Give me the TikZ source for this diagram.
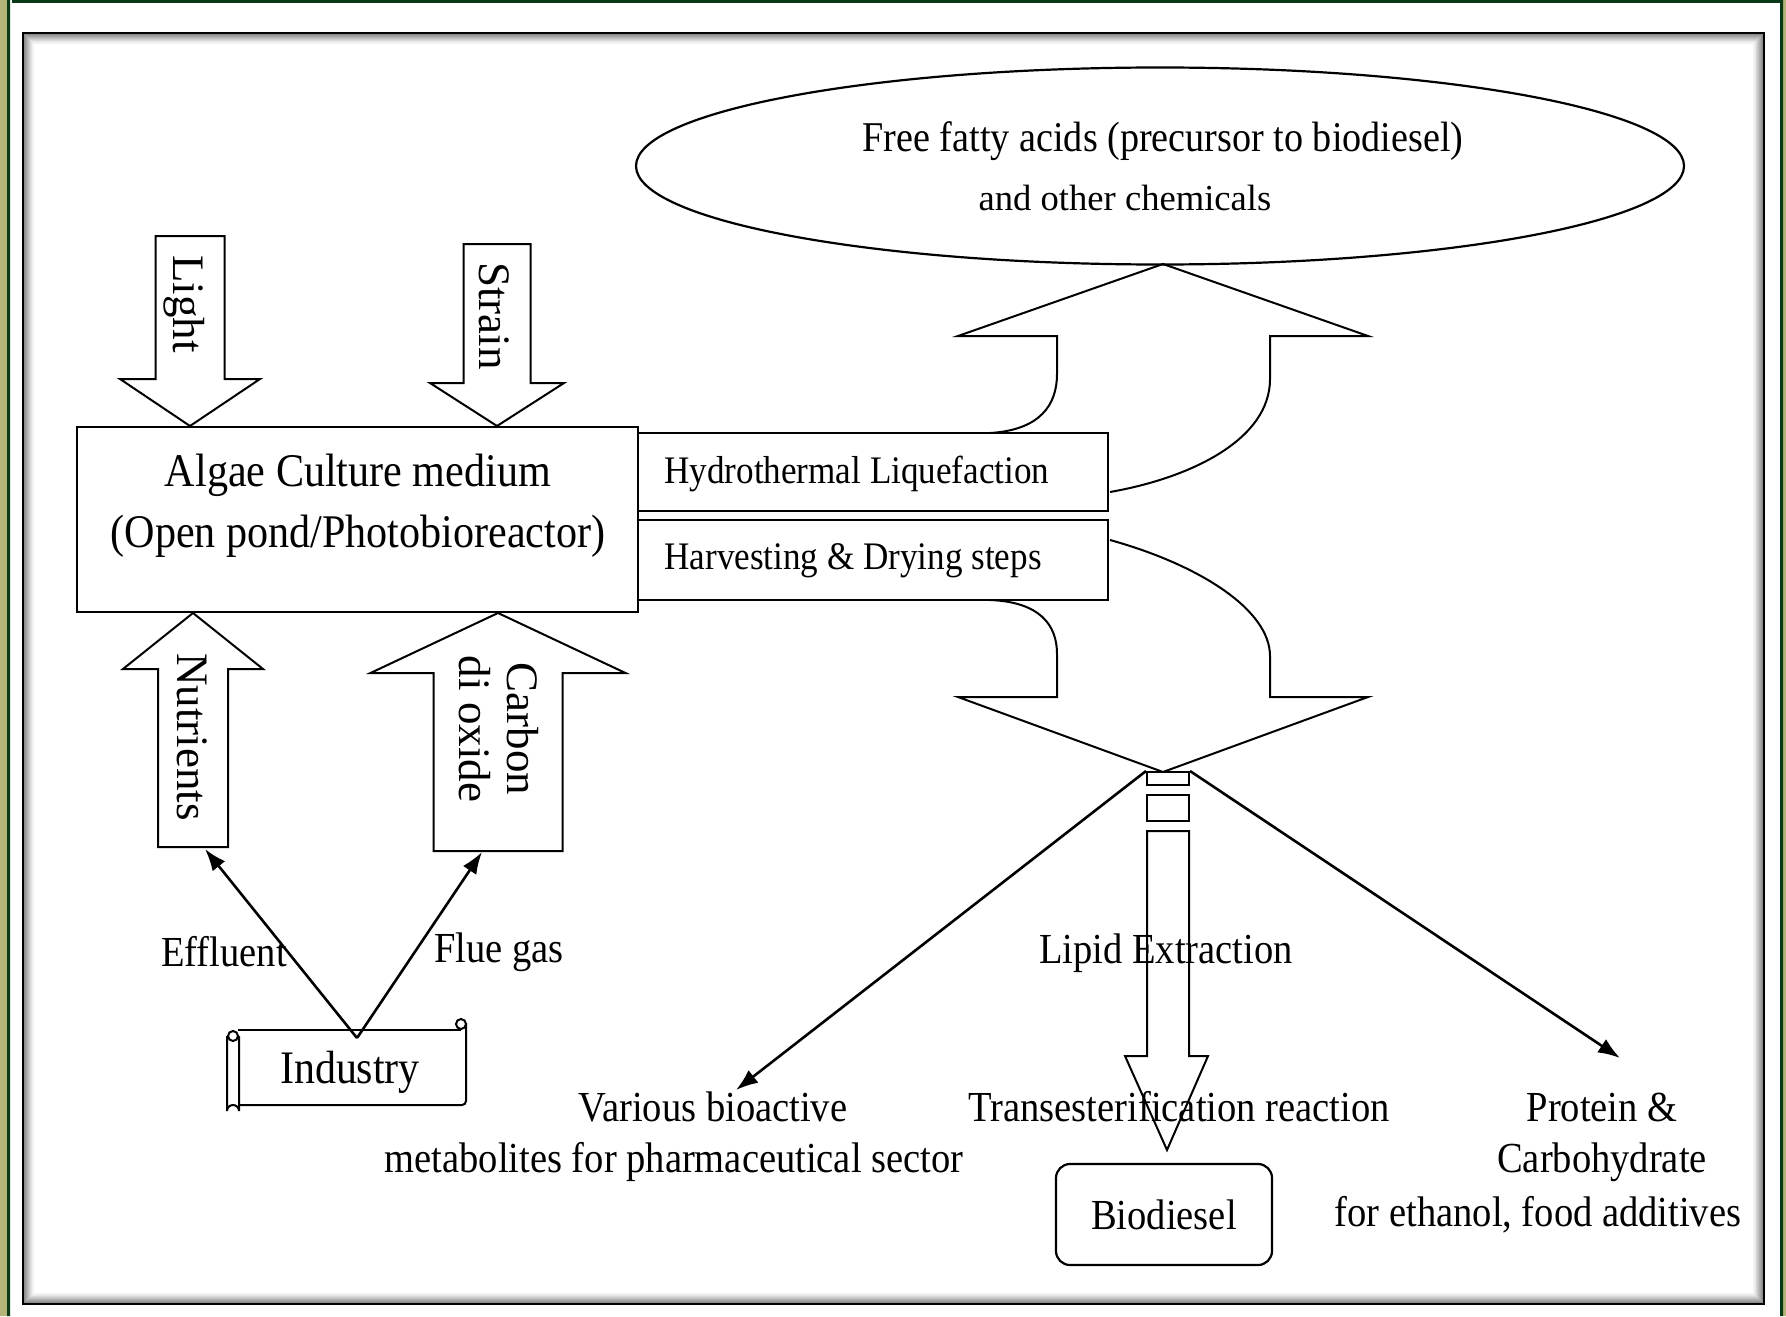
\documentclass[tikz,border=0pt]{standalone}
\usepackage{fontspec}
\setmainfont{Liberation Serif}[FakeStretch=0.9]
\newfontfamily\plainserif{Liberation Serif}
\usetikzlibrary{arrows.meta,shapes.geometric}
\definecolor{olivebar}{RGB}{180,180,120}
\definecolor{darkbar}{RGB}{8,56,22}
\tikzset{
  blk/.style={draw,line width=1pt,line join=miter},
  boxd/.style={draw,line width=1.3pt,inner sep=0pt},
  lbl/.style={inner sep=0pt,font=\fontsize{21.4}{27}\selectfont},
  vlbl/.style={inner sep=0pt,rotate=-90,align=center,font=\plainserif\fontsize{22.5}{24}\selectfont},
  conn/.style={-{Latex[length=11pt,width=8pt]},line width=1.3pt}
}
\begin{document}
\begin{tikzpicture}[x=0.5pt,y=-0.5pt]
\useasboundingbox (0,0) rectangle (1786,1316);
% page border
\fill[olivebar] (0,0) rectangle (7,1316) (1783,0) rectangle (1786,1316);
\fill[darkbar] (7,0) rectangle (10,1316) (12,0) rectangle (1783,3) (1780,0) rectangle (1783,1316);
% frame with inner shadow
\foreach \i in {1,...,10}{\pgfmathtruncatemacro{\g}{55-5*\i}\draw[line width=0.6pt,black!\g] (23+\i,33+\i) rectangle (1764-\i,1304-\i);}
\draw[line width=1pt] (23,33) rectangle (1764,1304);
% inputs
\foreach \cx/\sw/\ww/\ya/\yb/\yc in {190/34.5/70/236/379/426,497/33.5/67/244/383/426,193/35/70/847/669/613,498/64.5/127.5/851/673/613}
  \draw[blk] (\cx-\sw,\ya)--(\cx-\sw,\yb)--(\cx-\ww,\yb)--(\cx,\yc)--(\cx+\ww,\yb)--(\cx+\sw,\yb)--(\cx+\sw,\ya)--cycle;
\node[vlbl] (light) at (184,304) {Light};
\node[vlbl] (strain) at (494,316) {Strain};
\node[vlbl] (nutrients) at (192,737) {Nutrients};
\node[vlbl] (co2) at (499,729) {Carbon\\di oxide};
% culture and process boxes
\node[boxd,minimum width=280.5pt,minimum height=92.5pt] (culture) at (357.5,519.5) {};
\node[lbl,align=center,font=\fontsize{23.4}{30.5}\selectfont] (culturetxt) at (358,506) {Algae Culture medium\\(Open pond/Photobioreactor)};
\node[boxd,minimum width=235pt,minimum height=39pt] (htl) at (873,472) {};
\node[boxd,minimum width=235pt,minimum height=40pt] (harvest) at (873,560) {};
\node[lbl,anchor=west,font=\fontsize{19.5}{22}\selectfont] (htltxt) at (664,474) {Hydrothermal Liquefaction};
\node[lbl,anchor=west,font=\fontsize{19.5}{22}\selectfont] (harvesttxt) at (664,561) {Harvesting \& Drying steps};
% industry
\draw[line width=1pt] (238,1030) -- (461,1030);
\draw[line width=1pt,rounded corners=2] (466,1023) -- (466,1105) -- (239,1105);
\draw[line width=1pt] (461,1024) circle (5);
\draw[line width=1pt] (227,1036) -- (227,1111) arc(180:360:6) -- (239,1036);
\draw[line width=1pt] (233,1036) circle (5);
\node[lbl,font=\fontsize{23.3}{25}\selectfont] (industry) at (350,1072) {Industry};
\node[lbl] (effluent) at (224,952) {Effluent};
\node[lbl] (fluegas) at (499,952) {Flue gas};
\coordinate (indtop) at (357,1038);
\coordinate (nutbot) at (205,849);
\coordinate (co2bot) at (482,852);
\draw[conn] (indtop) -- (nutbot);
\draw[conn] (indtop) -- (co2bot);
% products
\node[draw,ellipse,line width=1.1pt,minimum width=524pt,minimum height=98.5pt,inner sep=0pt] (ffa) at (1160,166) {};
\node[lbl,font=\fontsize{21.2}{25}\selectfont] (ffatxt) at (1163,141) {Free fatty acids (precursor to biodiesel)};
\node[lbl,font=\plainserif\fontsize{18.3}{22}\selectfont] (ffatxt2) at (1125,198) {and other chemicals};
\draw[blk] (990,433) .. controls (1040,430) and (1057,405) .. (1057,374) -- (1057,336) -- (958,336) -- (1163,264) -- (1368,336) -- (1270,336) -- (1270,379) .. controls (1270,440) and (1190,478) .. (1110,492);
\draw[blk] (1110,540) .. controls (1200,565) and (1270,610) .. (1270,656) -- (1270,697) -- (1368,697) -- (1163,772) -- (958,697) -- (1057,697) -- (1057,654) .. controls (1057,625) and (1040,602) .. (990,600);
\node[draw,line width=1pt,minimum width=21pt,minimum height=6.5pt,inner sep=0pt] (lip1) at (1168,778.5) {};
\node[draw,line width=1pt,minimum width=21pt,minimum height=13pt,inner sep=0pt] (lip2) at (1168,808) {};
\node[lbl] (lipid) at (1166,953) {Lipid Extraction};
\node[lbl] (trans) at (1179,1107) {Transesterification reaction};
\draw[blk] (1147,831) -- (1147,1056) -- (1125,1056) -- (1167,1150) -- (1208,1056) -- (1189,1056) -- (1189,831) -- cycle;
\node[lbl,draw,line width=1.1pt,rounded corners=7pt,minimum width=108pt,minimum height=50.5pt] (biodiesel) at (1164,1214.5) {Biodiesel};
\node[lbl] (various) at (713,1107) {Various bioactive};
\node[lbl] (metab) at (674,1162) {metabolites for pharmaceutical sector};
\node[lbl] (proteintxt) at (1602,1107) {Protein \&};
\node[lbl] (carbo) at (1602,1162) {Carbohydrate};
\node[lbl] (ethanol) at (1538,1215) {for ethanol, food additives};
\coordinate (bioact) at (736,1090);
\coordinate (protein) at (1620,1058);
\draw[conn] (lip1.north west) -- (bioact);
\draw[conn] (lip1.north east) -- (protein);
\end{tikzpicture}
\end{document}
